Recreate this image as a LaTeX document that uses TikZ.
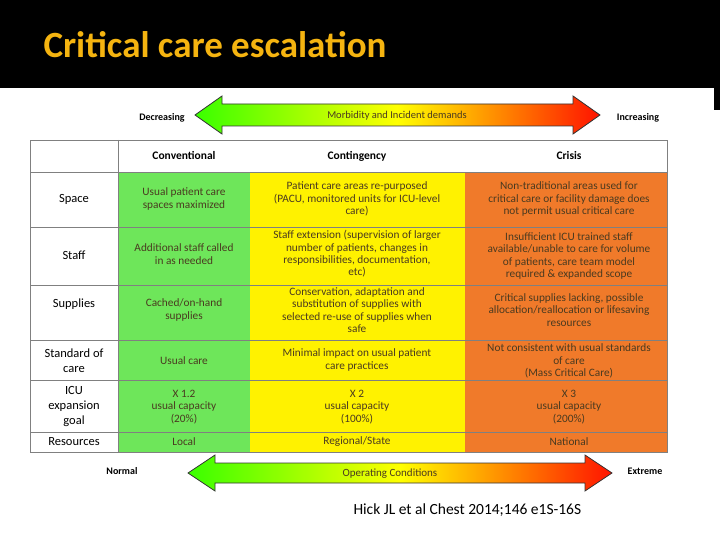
\documentclass[tikz,border=0pt]{standalone}
\usepackage{fontspec}
\setmainfont{Carlito}
\definecolor{cg}{HTML}{6EE65A}
\definecolor{cy}{HTML}{FFF200}
\definecolor{co}{HTML}{F07A2A}
\definecolor{tt}{HTML}{F5B410}
\definecolor{ctx}{HTML}{4A3A20}
\begin{document}
\begin{tikzpicture}[x=1pt,y=-1pt,
 cell/.style={align=center,font=\fontsize{11.3}{12.4}\selectfont,inner sep=1pt,text=ctx},
 lab/.style={align=center,font=\fontsize{12.5}{15}\selectfont,inner sep=1pt},
 head/.style={font=\bfseries\fontsize{11.5}{13}\selectfont},
 darr/.style={draw=black!80,line width=0.8pt,left color=green!70!lime,right color=red!85!orange,middle color=yellow}]
\useasboundingbox (0,0) rectangle (720,540);
\fill[white] (0,0) rectangle (720,540);
\fill[black] (0,0) rectangle (720,88);
\fill[black] (714,88) rectangle (720,110);
\node[anchor=west,text=tt,font=\bfseries\fontsize{37}{40}\selectfont] (title) at (40,45) {Critical care escalation};
% top arrow
\path[darr] (195,115) -- (222,96) -- (222,104) -- (573,104) -- (573,96) -- (600,115) -- (573,134) -- (573,126) -- (222,126) -- (222,134) -- cycle;
\node[font=\fontsize{10.5}{12}\selectfont,text=ctx] (md) at (397,116) {Morbidity and Incident demands};
\node[head,font=\bfseries\fontsize{10}{12}\selectfont] (dec) at (162,118) {Decreasing};
\node[head,font=\bfseries\fontsize{10}{12}\selectfont] (inc) at (638,118) {Increasing};
% table fills
\fill[cg] (118,172) rectangle (250,452);
\fill[cy] (250,172) rectangle (465,452);
\fill[co] (465,172) rectangle (667,452);
\draw[gray,line width=0.7pt] (30,140) rectangle (667,452);
\foreach \y in {172,227,285,340,380,432} \draw[gray,line width=0.7pt] (30,\y) -- (667,\y);
\draw[gray,line width=0.7pt] (118,140) -- (118,452);
% headers
\node[head] (hc1) at (184,156) {Conventional};
\node[head] (hc2) at (357,156) {Contingency};
\node[head] (hc3) at (569,156) {Crisis};
% labels
\node[lab] (l1) at (74,199) {Space};
\node[lab] (l2) at (74,255) {Staff};
\node[lab] (l3) at (74,304) {Supplies};
\node[lab] (l4) at (74,361) {Standard of\\care};
\node[lab] (l5) at (74,407) {ICU\\expansion\\goal};
\node[lab] (l6) at (74,442) {Resources};
% conventional
\node[cell] (a1) at (184,199) {Usual patient care\\spaces maximized};
\node[cell] (a2) at (184,254) {Additional staff called\\in as needed};
\node[cell] (a3) at (184,310) {Cached/on-hand\\supplies};
\node[cell] (a4) at (184,361) {Usual care};
\node[cell] (a5) at (184,407) {X 1.2\\usual capacity\\(20\%)};
\node[cell] (a6) at (184,442) {Local};
% contingency
\node[cell] (b1) at (357,199) {Patient care areas re-purposed\\(PACU, monitored units for ICU-level\\care)};
\node[cell] (b2) at (357,254) {Staff extension (supervision of larger\\number of patients, changes in\\responsibilities, documentation,\\etc)};
\node[cell] (b3) at (357,310) {Conservation, adaptation and\\substitution of supplies with\\selected re-use of supplies when\\safe};
\node[cell] (b4) at (357,360) {Minimal impact on usual patient\\care practices};
\node[cell] (b5) at (357,407) {X 2\\usual capacity\\(100\%)};
\node[cell] (b6) at (357,442) {Regional/State};
% crisis
\node[cell] (c1) at (569,199) {Non-traditional areas used for\\critical care or facility damage does\\not permit usual critical care};
\node[cell] (c2) at (569,256) {Insufficient ICU trained staff\\available/unable to care for volume\\of patients, care team model\\required \& expanded scope};
\node[cell] (c3) at (569,310) {Critical supplies lacking, possible\\allocation/reallocation or lifesaving\\resources};
\node[cell] (c4) at (569,361) {Not consistent with usual standards\\of care\\(Mass Critical Care)};
\node[cell] (c5) at (569,407) {X 3\\usual capacity\\(200\%)};
\node[cell] (c6) at (569,442) {National};
% bottom arrow
\path[darr] (188,473) -- (215,455) -- (215,463) -- (585,463) -- (585,455) -- (612,473) -- (585,491) -- (585,483) -- (215,483) -- (215,491) -- cycle;
\node[font=\fontsize{11}{12}\selectfont,text=ctx] (oc) at (390,474) {Operating Conditions};
\node[head,font=\bfseries\fontsize{10}{12}\selectfont] (nor) at (122,471) {Normal};
\node[head,font=\bfseries\fontsize{10}{12}\selectfont] (ext) at (645,471) {Extreme};
\node[anchor=west,font=\fontsize{15.5}{17}\selectfont] (ref) at (350,510) {Hick JL et al Chest 2014;146 e1S-16S};
\end{tikzpicture}
\end{document}
